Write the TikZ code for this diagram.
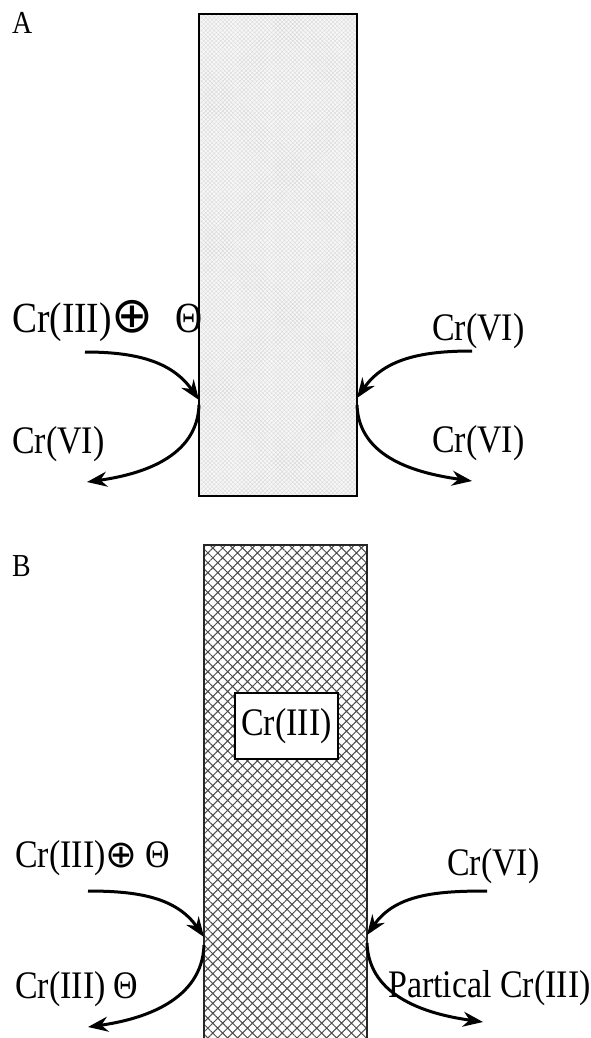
\documentclass[tikz,border=0pt]{standalone}
\usepackage{fontspec}
\setmainfont{Liberation Serif}[FakeStretch=0.87]
\newfontfamily\symfam{DejaVu Sans}
\usetikzlibrary{arrows.meta,patterns.meta}

\newcommand{\chg}[1]{{\symfam\fontsize{#1}{#1}\selectfont ⊕}}

\tikzset{
    flow/.style={-{Stealth[length=20pt,width=15pt]}, line width=3pt},
    lbl/.style={anchor=base west, inner sep=0pt, font=\fontsize{39}{44}\selectfont},
    panel/.style={anchor=base west, inner sep=0pt, font=\fontsize{32}{36}\selectfont},
    layerA/.style={draw, line width=2pt, preaction={fill=gray!6},
        pattern={Hatch[angle=45,distance=3pt,line width=0.4pt]}, pattern color=gray!30},
    layerB/.style={draw=black!85, line width=2pt, preaction={fill=white},
        pattern={Hatch[angle=45,distance=7pt,line width=1pt]}, pattern color=black!70},
}

\begin{document}
\begin{tikzpicture}[x=1pt, y=1pt]
    \useasboundingbox (0,0) rectangle (591,-1038);

    % panel A
    \coordinate (a1s) at (85,-352);
    \coordinate (a1e) at (199,-400);
    \coordinate (a2s) at (199,-405);
    \coordinate (a2e) at (87,-482);
    \coordinate (a3s) at (472,-351);
    \coordinate (a3e) at (357,-398);
    \coordinate (a4s) at (357,-405);
    \coordinate (a4e) at (472,-481);

    \path[layerA] (199,-14) rectangle (357,-496);
    \node[panel] (labA) at (12,-34) {A};
    \node[lbl, font=\fontsize{43}{48}\selectfont] (inA) at (12,-332) {Cr(III)\chg{50}\hspace{22pt}Θ};
    \node[lbl] (outA) at (12,-453) {Cr(VI)};
    \node[lbl] (inA2) at (432,-340) {Cr(VI)};
    \node[lbl] (outA2) at (432,-452) {Cr(VI)};

    \draw[flow] (a1s) to[out=0, in=125] (a1e);
    \draw[flow] (a2s) to[out=-92, in=8] (a2e);
    \draw[flow] (a3s) to[out=180, in=55] (a3e);
    \draw[flow] (a4s) to[out=-88, in=172] (a4e);

    % panel B
    \coordinate (b1s) at (88,-891);
    \coordinate (b1e) at (204,-937);
    \coordinate (b2s) at (204,-945);
    \coordinate (b2e) at (88,-1027);
    \coordinate (b3s) at (487,-891);
    \coordinate (b3e) at (367,-935);
    \coordinate (b4s) at (367,-943);
    \coordinate (b4e) at (483,-1022);

    \path[layerB] (204,-545) rectangle (367,-1046);
    \node[draw, line width=2pt, fill=white, minimum width=103pt, minimum height=66pt,
        inner sep=0pt, font=\fontsize{39}{44}\selectfont] (core) at (286.5,-726) {Cr(III)};
    \node[panel] (labB) at (12,-576) {B};
    \node[lbl] (inB) at (15,-867) {Cr(III)\chg{38}\hspace{8pt}Θ};
    \node[lbl] (outB) at (15,-998) {Cr(III)\hspace{8pt}Θ};
    \node[lbl] (inB2) at (447,-875) {Cr(VI)};
    \node[lbl] (outB2) at (388,-997) {Partical Cr(III)};

    \draw[flow] (b1s) to[out=0, in=125] (b1e);
    \draw[flow] (b2s) to[out=-92, in=8] (b2e);
    \draw[flow] (b3s) to[out=180, in=55] (b3e);
    \draw[flow] (b4s) to[out=-88, in=172] (b4e);
\end{tikzpicture}
\end{document}
